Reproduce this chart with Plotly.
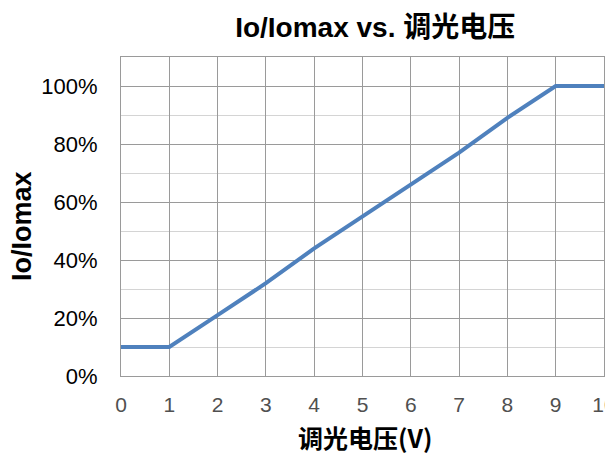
import plotly.graph_objects as go

# Data
voltage = [0, 1, 2, 3, 4, 5, 6, 7, 8, 9, 10]
ratio_pct = [10, 10, 21, 32, 44, 55, 66, 77, 89, 100, 100]
x_ticks = [0, 1, 2, 3, 4, 5, 6, 7, 8, 9, 10]
y_ticks = [0, 20, 40, 60, 80, 100]
y_tick_labels = ["0%", "20%", "40%", "60%", "80%", "100%"]

title_text = "<b>Io/Iomax vs. 调光电压</b>"
x_title = "<b>调光电压(V)</b>"
y_title = "<b>Io/Iomax</b>"

FONT = "Liberation Sans, Arial, Noto Sans CJK SC, sans-serif"

fig = go.Figure()
fig.add_trace(go.Scatter(
    x=voltage, y=ratio_pct, mode="lines",
    line=dict(color="#4F81BD", width=4),
    showlegend=False,
))

fig.update_layout(
    width=613, height=456,
    paper_bgcolor="white", plot_bgcolor="white",
    margin=dict(l=113, r=17, t=49, b=88),
    font=dict(family=FONT, color="#000000"),
    title=dict(text=title_text, x=0.599, xanchor="center", y=0.958, yanchor="middle",
               font=dict(size=28, family=FONT)),
    annotations=[
        dict(text=y_title, xref="paper", yref="paper", x=-0.205, y=0.47,
             xanchor="center", yanchor="middle", textangle=-90, showarrow=False,
             font=dict(size=27, family=FONT)),
        dict(text=x_title, xref="paper", yref="paper", x=0.505, y=-0.19,
             xanchor="center", yanchor="middle", showarrow=False,
             font=dict(size=25, family="Noto Sans CJK SC, Liberation Sans, sans-serif")),
    ],
)

fig.update_xaxes(
    range=[0, 10], tickvals=x_ticks, ticktext=[str(v) for v in x_ticks],
    showgrid=True, gridcolor="#9a9a9a", gridwidth=1,
    showline=True, linecolor="#9a9a9a", mirror=True, linewidth=1,
    zeroline=False, ticks="", ticklabelstandoff=10,
    tickfont=dict(size=21, color="#505050"),
    automargin=False,
)
fig.update_yaxes(
    range=[0, 110], tickvals=y_ticks, ticktext=y_tick_labels,
    showgrid=True, gridcolor="#9a9a9a", gridwidth=1,
    minor=dict(dtick=10, tick0=0, showgrid=True, gridcolor="#d4d4d4", gridwidth=1),
    showline=True, linecolor="#9a9a9a", mirror=True, linewidth=1,
    zeroline=False, ticks="", ticklabelstandoff=18,
    tickfont=dict(size=22, color="#000000"),
    automargin=False,
)

fig.write_html("out.html")
